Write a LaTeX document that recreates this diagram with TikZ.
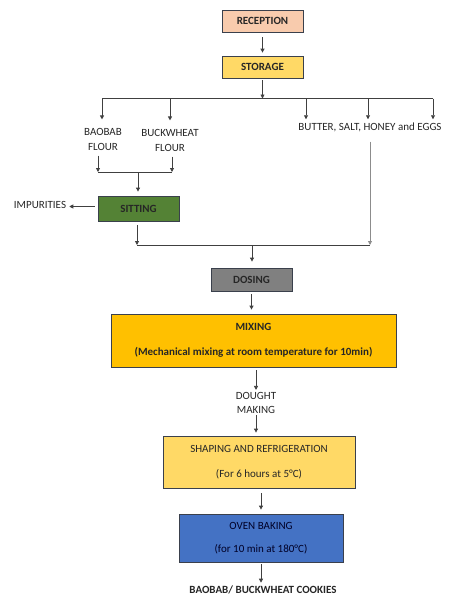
\documentclass[tikz,border=0pt]{standalone}
\usepackage{fontspec}
\setmainfont{Carlito}
\usetikzlibrary{arrows.meta}

\definecolor{reccol}{HTML}{F8CBAD}
\definecolor{stocol}{HTML}{FFD966}
\definecolor{sitcol}{HTML}{548235}
\definecolor{doscol}{HTML}{808080}
\definecolor{mixcol}{HTML}{FFC000}
\definecolor{ovncol}{HTML}{4472C4}
\definecolor{boxline}{HTML}{3A404C}
\definecolor{linecol}{HTML}{404040}
\definecolor{textcol}{HTML}{262626}

\begin{document}
\begin{tikzpicture}[x=1pt,y=-1pt,font=\fontsize{11}{14.5}\selectfont]

        \useasboundingbox (0,0) rectangle (474,598);

        \begin{scope}[every node/.style={draw=boxline,line width=0.8pt,minimum width=81pt,minimum height=22pt,align=center,text=textcol,font=\fontsize{11}{13}\selectfont\bfseries}]
          \node[fill=reccol] (1) at (262.5,21)    {RECEPTION};
          \node[fill=stocol] (2) at (262.5,67)    {STORAGE};
          \node[fill=sitcol,minimum height=25pt] (3) at (138.5,208.5) {SITTING};
          \node[fill=doscol,minimum height=23pt] (4) at (251.5,279.5) {DOSING};
          \node[fill=mixcol,minimum width=285pt,minimum height=53pt] (5) at (253.5,340.5)
            {MIXING\\[12pt](Mechanical mixing at room temperature for 10min)};
          \node[fill=stocol,minimum width=192pt,minimum height=52pt,font=\fontsize{11}{13}\selectfont] (6) at (259,462)
            {SHAPING AND REFRIGERATION\\[12pt](For 6 hours at 5°C)};
          \node[fill=ovncol,minimum width=164pt,minimum height=48pt,font=\fontsize{11}{13}\selectfont,text=black!85!blue] (7) at (261,538)
            {OVEN BAKING\\[10pt](for 10 min at 180°C)};
        \end{scope}

        \begin{scope}[every node/.style={align=center,text=textcol,inner sep=1pt}]
          \node (8)  at (103,139.5) {BAOBAB\\FLOUR};
          \node (9)  at (170,140.5) {BUCKWHEAT\\FLOUR};
          \node (10) at (370,127)   {BUTTER, SALT, HONEY and EGGS};
          \node (11) at (40,205)    {IMPURITIES};
          \node (12) at (256,403)   {DOUGHT\\MAKING};
          \node[font=\fontsize{11}{13}\selectfont\bfseries] (13) at (263,590) {BAOBAB/ BUCKWHEAT COOKIES};
        \end{scope}

        % branch and join points
        \coordinate (s0) at (262.5,98.5);
        \coordinate (s1) at (102,98.5);
        \coordinate (s2) at (170,98.5);
        \coordinate (s3) at (306,98.5);
        \coordinate (s4) at (368,98.5);
        \coordinate (s5) at (433,98.5);
        \coordinate (m0) at (138,172);
        \coordinate (m1) at (98,172);
        \coordinate (m2) at (172,172);
        \coordinate (d0) at (252,245);
        \coordinate (d1) at (137,245);
        \coordinate (d2) at (370,245);

        \begin{scope}[every path/.style={draw=linecol,line width=0.8pt},
                      every edge/.style={draw=linecol,line width=0.8pt,-{Triangle[length=4pt,width=4pt]}}]
          \draw (s1) -- (s5);
          \draw (m1) -- (m2);
          \draw (d1) -- (d2);

          \path (1)  edge[shorten <=5pt,shorten >=3pt] (2);
          \path (2)  edge[shorten <=2pt] (s0);
          \path (s1) edge[shorten >=8pt] (s1 |- 8.north);
          \path (s2) edge[shorten >=8pt] (s2 |- 9.north);
          \path (s3) edge[shorten >=2pt] (s3 |- 10.north);
          \path (s4) edge[shorten >=2pt] (s4 |- 10.north);
          \path (s5) edge[shorten >=2pt] (s5 |- 10.north);
          \path (8.south -| m1) edge[shorten <=4pt] (m1);
          \path (9.south -| m2) edge[shorten <=4pt] (m2);
          \path (m0) edge[shorten >=4pt] (m0 |- 3.north);
          \path ([yshift=2pt]3.west) edge[shorten <=3pt,shorten >=2pt] ([yshift=2pt]3.west -| 11.east);
          \path (3.south -| d1) edge[shorten <=4pt] (d1);
          \path (10.south -| d2) edge[draw=linecol!60,shorten <=9pt] (d2);
          \path (d0) edge[shorten >=6pt] (d0 |- 4.north);
          \path (4.south) edge[shorten <=3pt,shorten >=4pt] (4.south |- 5.north);
          \path (5.south -| 12) edge[shorten <=3pt,shorten >=1pt] (12.north);
          \path (12.south) edge[shorten >=3pt] (12.south |- 6.north);
          \path (6.south -| 7) edge[shorten <=5pt,shorten >=4pt] (7.north);
          \path (7.south) edge[shorten <=2pt,shorten >=2pt] (7.south |- 13.north);
        \end{scope}

      \end{tikzpicture}
\end{document}
